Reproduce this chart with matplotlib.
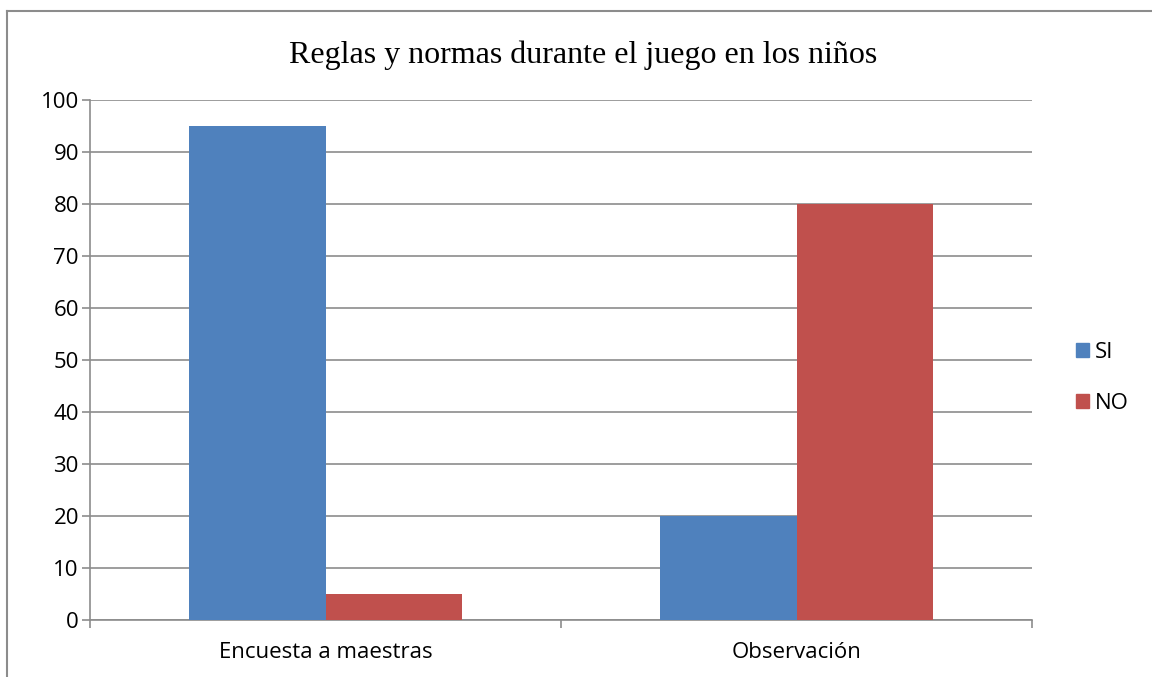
import numpy as np
import matplotlib.pyplot as plt
from matplotlib.lines import Line2D

categories = ["Encuesta a maestras", "Observación"]
si_values = [95, 20]
no_values = [5, 80]
series_names = ["SI", "NO"]
title = "Reglas y normas durante el juego en los niños"

blue = "#4F81BD"
red = "#C0504D"
grid_col = "#8C8C8C"

W, H = 1152, 677
fig = plt.figure(figsize=(W / 100, H / 100), dpi=100)
ax = fig.add_axes([90 / W, 1 - 620 / H, (1032 - 90) / W, (620 - 100) / H])

x = np.arange(len(categories))
bw = 0.289
ax.bar(x - bw / 2, si_values, bw, color=blue, label=series_names[0], zorder=3)
ax.bar(x + bw / 2, no_values, bw, color=red, label=series_names[1], zorder=3)

ax.set_xlim(-0.5, len(categories) - 0.5)
ax.set_ylim(0, 100)
ax.set_yticks(range(0, 101, 10))
ax.yaxis.grid(True, color=grid_col, linewidth=1.2, zorder=0)
ax.set_axisbelow(True)

for s in ["top", "right"]:
    ax.spines[s].set_visible(False)
ax.spines["left"].set_color(grid_col)
ax.spines["bottom"].set_color(grid_col)
ax.spines["left"].set_linewidth(1.2)
ax.spines["bottom"].set_linewidth(1.2)

fs = 16
ax.set_xticks(x)
ax.set_xticklabels(categories, fontsize=fs, family="Open Sans")
ax.tick_params(axis="x", length=0, pad=16)
ax.set_xticks(np.arange(-0.5, len(categories)), minor=True)
ax.tick_params(axis="x", which="minor", length=6, color=grid_col, width=1.2)
ax.tick_params(axis="y", length=6, color=grid_col, width=1.2, labelsize=fs, pad=2)
for lab in ax.get_yticklabels():
    lab.set_family("Open Sans")

fig.text(583 / W, 1 - 55 / H, title, ha="center", va="center",
         fontsize=23, family="Liberation Serif")

handles = [plt.Rectangle((0, 0), 1, 1, color=blue), plt.Rectangle((0, 0), 1, 1, color=red)]
fig.legend(handles, series_names, loc="center left", bbox_to_anchor=(1056 / W, 1 - 378 / H),
           frameon=False, prop={"family": "Open Sans", "size": fs},
           handlelength=0.6, handleheight=0.6, handletextpad=0.25, labelspacing=1.35)

# outer chart border (top and left only visible)
fig.add_artist(Line2D([7 / W, 7 / W], [0, 1 - 11 / H], color=grid_col, linewidth=1.5,
                      transform=fig.transFigure))
fig.add_artist(Line2D([7 / W, 1], [1 - 11 / H, 1 - 11 / H], color=grid_col, linewidth=1.5,
                      transform=fig.transFigure))

fig.savefig("out.png", dpi=100)
